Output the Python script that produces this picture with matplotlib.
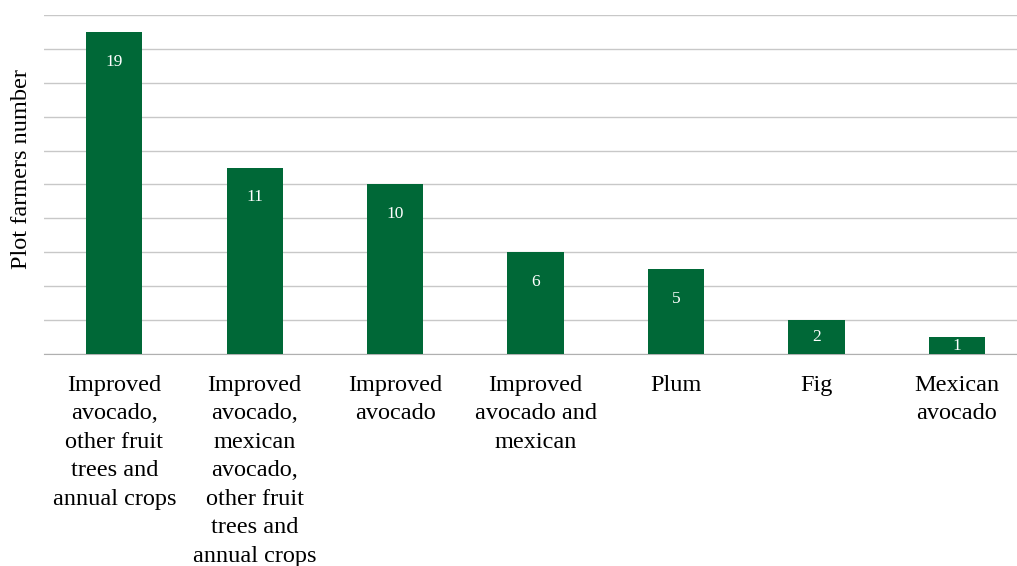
import matplotlib
matplotlib.use("Agg")
import matplotlib.pyplot as plt
import numpy as np

# categories and values
categories = [
    "Improved\navocado,\nother fruit\ntrees and\nannual crops",
    "Improved\navocado,\nmexican\navocado,\nother fruit\ntrees and\nannual crops",
    "Improved\navocado",
    "Improved\navocado and\nmexican",
    "Plum",
    "Fig",
    "Mexican\navocado",
]
farmers = [19, 11, 10, 6, 5, 2, 1]

plt.rcParams['font.family'] = ['Liberation Serif', 'DejaVu Serif']

fig = plt.figure(figsize=(10.17, 5.66), dpi=100)
ax = fig.add_axes([0.0433, 0.3746, 0.9666, 0.5989])

x = np.arange(len(categories))
ax.bar(x, farmers, width=0.40, color='#006837', zorder=3)

# value labels inside the bars
for xi, v in zip(x, farmers):
    ypos = max(v - 1.75, v / 2)
    ax.text(xi, ypos, str(v), ha='center', va='center', color='white', fontsize=12.5, zorder=4)

ax.set_xlim(-0.5, len(categories) - 0.5)
ax.set_ylim(0, 20)
ax.set_yticks(np.arange(0, 21, 2))
ax.set_yticklabels([])
ax.tick_params(axis='y', length=0)
ax.grid(axis='y', color='#c8c8c8', lw=1, zorder=0)

ax.set_xticks(x)
ax.set_xticklabels(categories, fontsize=17.5, linespacing=1.47, va='top')
ax.tick_params(axis='x', length=0, pad=15)

for s in ['top', 'right', 'left']:
    ax.spines[s].set_visible(False)
ax.spines['bottom'].set_color('#b0b0b0')
ax.spines['bottom'].set_zorder(2)

fig.text(22 / 1017, 1 - 169 / 566, "Plot farmers number", rotation=90,
         ha='center', va='center', fontsize=17.5)

fig.savefig("out.png", dpi=100)
